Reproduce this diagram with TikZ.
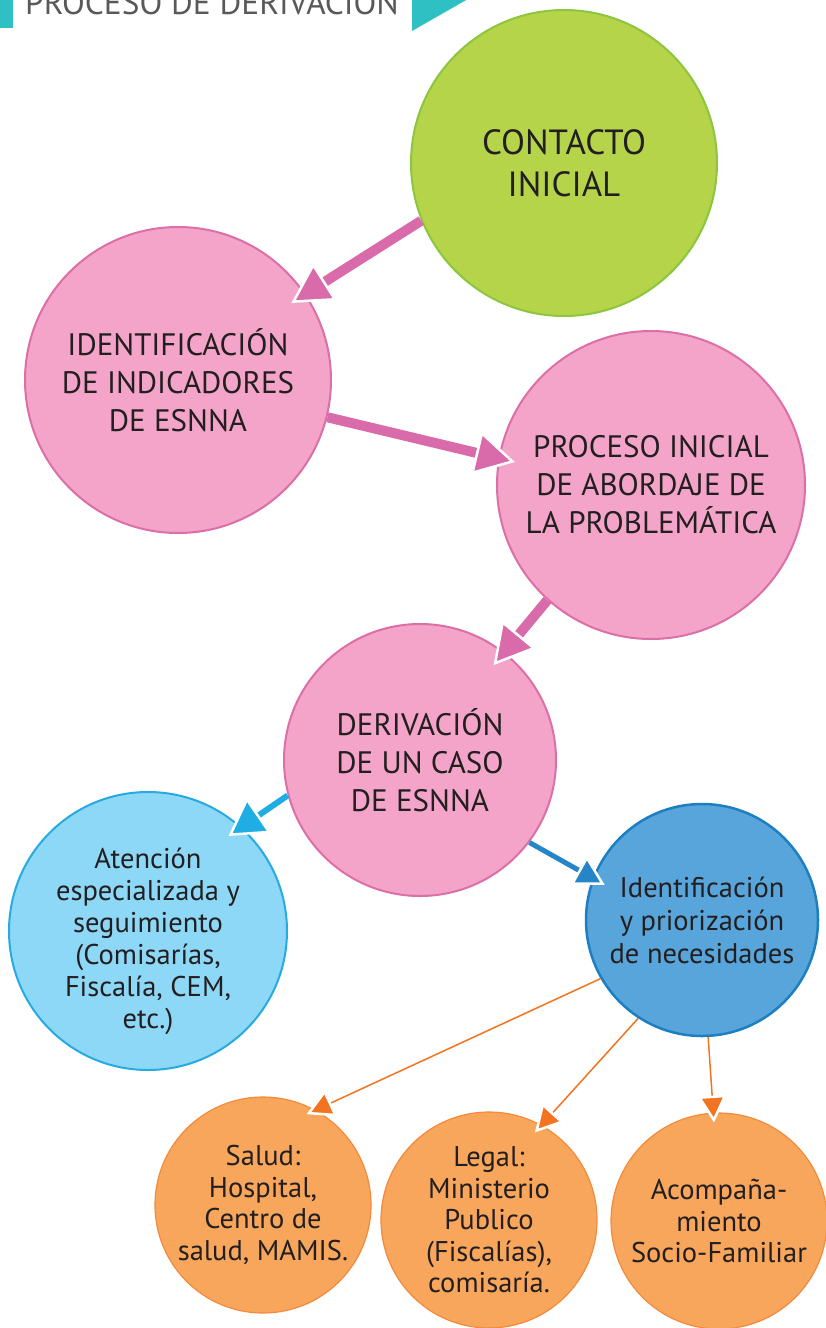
\documentclass[tikz,border=0pt]{standalone}
\usepackage{fontspec}
\setmainfont{PT Sans}
\usetikzlibrary{arrows.meta}
\definecolor{txt}{HTML}{231F20}
\definecolor{hdr}{HTML}{58595B}
\definecolor{teal}{HTML}{2FC0C4}
\definecolor{greenF}{HTML}{B5D449}
\definecolor{greenD}{HTML}{8CC63F}
\definecolor{pinkF}{HTML}{F3A4C8}
\definecolor{pinkD}{HTML}{DC6FA8}
\definecolor{pinkA}{HTML}{D96BAA}
\definecolor{lblueF}{HTML}{8DD7F7}
\definecolor{lblueD}{HTML}{27AAE1}
\definecolor{lblueA}{HTML}{1FAEE3}
\definecolor{dblueF}{HTML}{58A5DC}
\definecolor{dblueD}{HTML}{1C7FC2}
\definecolor{dblueA}{HTML}{2585C8}
\definecolor{orF}{HTML}{F8A65C}
\definecolor{orD}{HTML}{F38A3C}
\definecolor{orA}{HTML}{F37320}
\tikzset{
  bub/.style={circle, inner sep=0pt, line width=2pt, align=center, text=txt},
  bigtxt/.style={font=\fontsize{31}{38}\selectfont},
  smalltxt/.style={font=\fontsize{28.5}{32}\selectfont},
  greenbub/.style={bub, fill=greenF, draw=greenD, minimum size=306pt, font=\fontsize{35}{42}\selectfont},
  pinkbub/.style={bub, fill=pinkF, draw=pinkD, bigtxt},
  lbluebub/.style={bub, fill=lblueF, draw=lblueD, smalltxt},
  dbluebub/.style={bub, fill=dblueF, draw=dblueD, line width=2.5pt, font=\fontsize{28.5}{33}\selectfont},
  orbub/.style={bub, fill=orF, draw=orD, minimum size=216pt, line width=1.2pt, font=\fontsize{28.5}{31.5}\selectfont},
  plain/.style={inner sep=0pt, align=center, text=txt},
  pinkarrow/.style={draw=pinkA, line width=10pt, shorten >=-17pt, -{Triangle[length=40pt,width=44pt,line width=2.5pt,color=white,fill=pinkA]}},
  lbluearrow/.style={draw=lblueA, line width=6pt, shorten >=-16pt, -{Triangle[length=37pt,width=43pt,line width=2.5pt,color=white,fill=lblueA]}},
  dbluearrow/.style={draw=dblueA, line width=5pt, shorten >=-14pt, -{Triangle[length=30pt,width=33pt,line width=2.5pt,color=white,fill=dblueA]}},
  orarrow/.style={draw=orA, line width=1.5pt, shorten >=-10pt, -{Triangle[length=27pt,width=29pt,line width=2.5pt,color=white,fill=orA]}},
}
\begin{document}
\begin{tikzpicture}[x=1pt,y=-1pt]
\useasboundingbox (0,0) rectangle (826,1328);
% header
\fill[teal] (0,-5) rectangle (13,28);
\fill[teal] (412,-5) -- (475,-5) -- (412,31) -- cycle;
\node[anchor=base west, inner sep=0pt, text=hdr, font=\fontsize{33.3}{34}\selectfont] (hd) at (25,14) {PROCESO DE DERIVACIÓN};
% bubbles
\node[greenbub] (c1) at (564,163) {CONTACTO\\INICIAL};
\node[pinkbub, minimum size=306pt] (c2) at (178,380) {IDENTIFICACIÓN\\DE INDICADORES\\DE ESNNA};
\node[pinkbub, minimum size=308pt] (c3) at (651,485) {PROCESO INICIAL\\DE ABORDAJE DE\\LA PROBLEMÁTICA};
\node[pinkbub, minimum size=272pt] (c4) at (420,760) {DERIVACIÓN\\DE UN CASO\\DE ESNNA};
\node[lbluebub, minimum size=278pt] (c5) at (148,931) {};
\node[plain, smalltxt] (c5t) at (148,941) {Atención\\especializada y\\seguimiento\\(Comisarías,\\Fiscalía, CEM,\\etc.)};
\node[dbluebub, minimum size=232pt] (c6) at (702,920) {Identificación\\y priorización\\de necesidades};
\node[orbub] (c7) at (263,1205) {Salud:\\Hospital,\\Centro de\\salud, MAMIS.};
\node[orbub] (c8) at (489,1220) {Legal:\\Ministerio\\Publico\\(Fiscalías),\\comisaría.};
\node[orbub] (c9) at (719,1221) {Acompaña-\\miento\\Socio-Familiar};
% connectors
\draw[pinkarrow] (c1.202) -- (c2.34);
\draw[pinkarrow] (c2.-14) -- (c3.170);
\draw[pinkarrow] (c3.228) -- (c4.52);
\draw[lbluearrow] (c4.195) -- (c5.48);
\draw[dbluearrow] (c4.-37) -- (c6.159);
\draw[orarrow] (c6.210) -- (c7.61);
\draw[orarrow] (c6.237) -- (c8.61);
\draw[orarrow] (c6.-87) -- (c9.93);
\end{tikzpicture}
\end{document}
